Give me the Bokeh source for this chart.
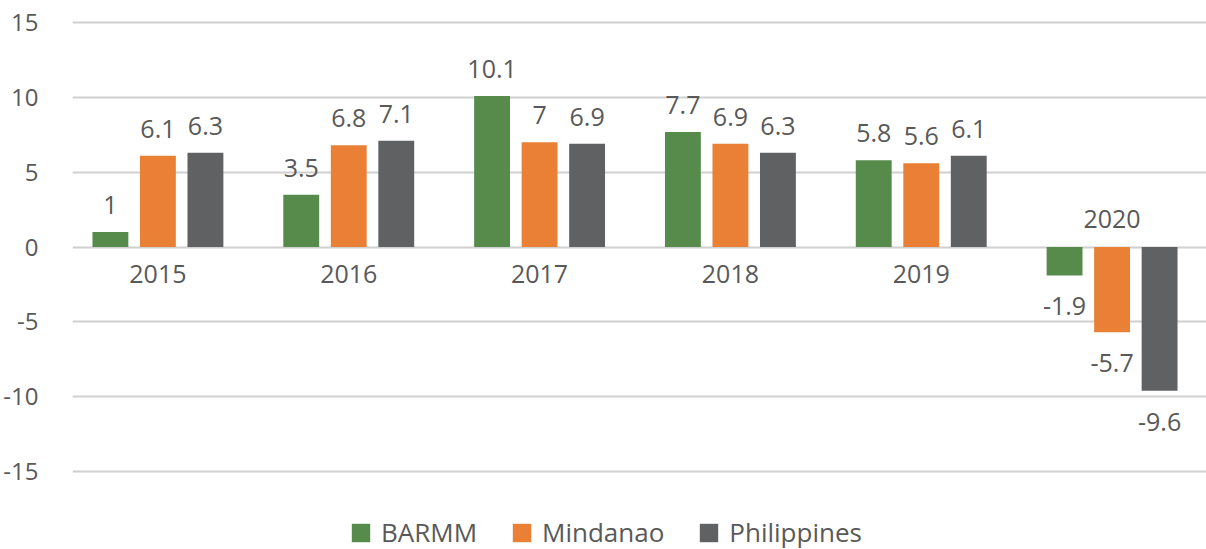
from bokeh.plotting import figure
from bokeh.models import Range1d, FixedTicker, ColumnDataSource, Legend, LegendItem
from bokeh.transform import dodge
from bokeh.core.properties import value
from bokeh.embed import file_html
from bokeh.resources import INLINE

years = ["2015", "2016", "2017", "2018", "2019", "2020"]
barmm = [1.0, 3.5, 10.1, 7.7, 5.8, -1.9]
mindanao = [6.1, 6.8, 7.0, 6.9, 5.6, -5.7]
philippines = [6.3, 7.1, 6.9, 6.3, 6.1, -9.6]
series_names = ["BARMM", "Mindanao", "Philippines"]
colors = ["#568B4C", "#EA8036", "#606163"]
y_ticks = [-15, -10, -5, 0, 5, 10, 15]

FONT = "Open Sans"
TXT = "#595959"
FS = "25px"

p = figure(width=1206, height=549, output_backend="svg", toolbar_location=None,
           x_range=Range1d(-0.4476, 5.4948), y_range=Range1d(-20.22, 15.28),
           x_axis_type=None, min_border_left=71, min_border_right=0,
           min_border_top=18, min_border_bottom=0)
p.outline_line_color = None
p.background_fill_color = "white"

# y axis
p.yaxis.ticker = FixedTicker(ticks=y_ticks)
p.yaxis.axis_line_color = None
p.yaxis.major_tick_line_color = None
p.yaxis.minor_tick_line_color = None
p.yaxis.major_label_standoff = 28
p.yaxis.major_label_text_font = FONT
p.yaxis.major_label_text_font_size = "24px"
p.yaxis.major_label_text_color = TXT
p.yaxis.major_label_overrides = {t: str(t) for t in y_ticks}
p.ygrid.ticker = FixedTicker(ticks=y_ticks)
p.ygrid.grid_line_color = "#D0D0D0"
p.ygrid.grid_line_width = 2
p.xgrid.grid_line_color = None

xs = list(range(len(years)))
all_series = [barmm, mindanao, philippines]
offsets = [-0.249, 0.0, 0.249]
bar_w = 0.188

renderers = []
for name, vals, col, off in zip(series_names, all_series, colors, offsets):
    src = ColumnDataSource(dict(x=xs, top=vals))
    r = p.vbar(x=dodge("x", off), top="top", bottom=0, width=bar_w, source=src,
               fill_color=col, line_color=None)
    renderers.append(r)
    pos = ColumnDataSource(dict(x=[x for x, v in zip(xs, vals) if v >= 0],
                                y=[v for v in vals if v >= 0],
                                t=[f"{v:g}" for v in vals if v >= 0]))
    neg = ColumnDataSource(dict(x=[x for x, v in zip(xs, vals) if v < 0],
                                y=[v for v in vals if v < 0],
                                t=[f"{v:g}" for v in vals if v < 0]))
    p.text(x=dodge("x", off), y="y", text="t", source=pos, text_align="center",
           text_baseline="middle", y_offset=-27, text_font=value(FONT),
           text_font_size=FS, text_color=TXT)
    p.text(x=dodge("x", off), y="y", text="t", source=neg, text_align="center",
           text_baseline="middle", y_offset=31, text_font=value(FONT),
           text_font_size=FS, text_color=TXT)

# category labels near the zero line
cat_y_off = []
for i in range(len(years)):
    all_neg = all(s[i] < 0 for s in all_series)
    cat_y_off.append(-28 if all_neg else 27)
csrc = ColumnDataSource(dict(x=xs, y=[0] * len(xs), t=years, yo=cat_y_off))
p.text(x="x", y="y", text="t", y_offset="yo", source=csrc, text_align="center",
       text_baseline="middle", text_font=value(FONT), text_font_size=FS,
       text_color=TXT)

legend = Legend(items=[LegendItem(label=n, renderers=[r]) for n, r in zip(series_names, renderers)],
                orientation="horizontal", location=(277, -1),
                glyph_width=23, glyph_height=23, label_standoff=9, spacing=33,
                padding=0, margin=0, border_line_color=None, background_fill_alpha=0,
                label_text_font=FONT, label_text_font_size="26px", label_text_color=TXT)
p.add_layout(legend, "center")

open("out.html", "w").write(file_html(p, INLINE))
